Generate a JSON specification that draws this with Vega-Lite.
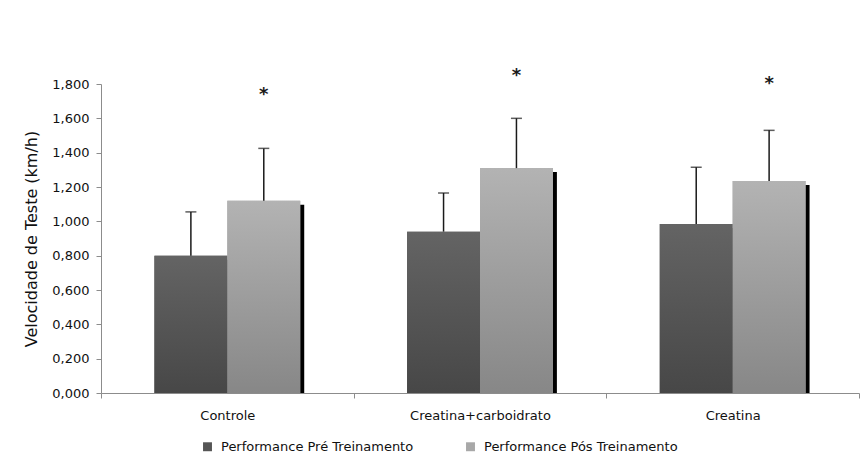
{
  "$schema": "https://vega.github.io/schema/vega-lite/v6.json",
  "width": 758,
  "height": 309,
  "autosize": {"type": "none"},
  "padding": {"left": 101, "top": 84, "right": 2, "bottom": 68},
  "background": "white",
  "config": {
    "font": "DejaVu Sans",
    "view": {"stroke": null},
    "axisY": {"tickCount": 10, "labelOverlap": false, "grid": false}
  },
  "data": {
    "values": [
      {"grupo": "Controle", "serie": "Performance Pré Treinamento", "valor": 0.80, "superior": 1.055},
      {"grupo": "Controle", "serie": "Performance Pós Treinamento", "valor": 1.12, "superior": 1.425, "asterisco": 1.765},
      {"grupo": "Creatina+carboidrato", "serie": "Performance Pré Treinamento", "valor": 0.94, "superior": 1.165},
      {"grupo": "Creatina+carboidrato", "serie": "Performance Pós Treinamento", "valor": 1.31, "superior": 1.60, "asterisco": 1.875},
      {"grupo": "Creatina", "serie": "Performance Pré Treinamento", "valor": 0.985, "superior": 1.315},
      {"grupo": "Creatina", "serie": "Performance Pós Treinamento", "valor": 1.235, "superior": 1.53, "asterisco": 1.83}
    ]
  },
  "resolve": {"scale": {"xOffset": "independent"}},
  "layer": [
    {
      "mark": {"type": "bar", "color": "#000000", "yOffset": 4},
      "encoding": {
        "x": {"field": "grupo", "type": "nominal", "sort": ["Controle", "Creatina+carboidrato", "Creatina"], "scale": {"paddingInner": 0, "paddingOuter": 0},
              "axis": {"title": null, "labelAngle": 0, "tickBand": "extent", "tickSize": 5, "domainColor": "#8c8c8c", "tickColor": "#8c8c8c", "labelFontSize": 13, "labelColor": "#111111", "labelPadding": 11}},
        "xOffset": {"field": "serie", "type": "nominal", "scale": {"domain": ["Performance Pré Treinamento", "Performance Pós Treinamento"], "paddingInner": 0, "paddingOuter": 0.733, "align": 0.5374}},
        "y": {"field": "valor", "type": "quantitative", "scale": {"domain": [0, 1.8], "nice": false},
              "axis": {"values": [0, 0.2, 0.4, 0.6, 0.8, 1.0, 1.2, 1.4, 1.6, 1.8], "tickCount": 10, "labelOverlap": false, "labelExpr": "replace(format(datum.value, '.3f'), '.', ',')", "grid": false, "tickSize": 5, "domainColor": "#8c8c8c", "tickColor": "#8c8c8c", "labelFontSize": 13, "labelColor": "#111111", "labelPadding": 7, "title": "Velocidade de Teste (km/h)", "titleFontSize": 16, "titleFontWeight": "normal", "titleColor": "#111111", "titlePadding": 12}},
        "y2": {"datum": 0}
      }
    },
    {
      "encoding": {
        "x": {"field": "grupo", "type": "nominal", "sort": ["Controle", "Creatina+carboidrato", "Creatina"]},
        "xOffset": {"field": "serie", "type": "nominal", "scale": {"domain": ["Performance Pré Treinamento", "Performance Pós Treinamento"], "paddingInner": 0, "paddingOuter": 0.733}}
      },
      "layer": [
        {
          "mark": {"type": "bar"},
          "encoding": {
            "y": {"field": "valor", "type": "quantitative",
                  "axis": {"values": [0, 0.2, 0.4, 0.6, 0.8, 1.0, 1.2, 1.4, 1.6, 1.8], "tickCount": 10, "labelOverlap": false, "labelExpr": "replace(format(datum.value, '.3f'), '.', ',')", "grid": false, "tickSize": 5, "domainColor": "#8c8c8c", "tickColor": "#8c8c8c", "labelFontSize": 13, "labelColor": "#111111", "labelPadding": 7, "title": "Velocidade de Teste (km/h)", "titleFontSize": 16, "titleFontWeight": "normal", "titleColor": "#111111", "titlePadding": 12}},
            "color": {"field": "serie", "type": "nominal", "scale": {"domain": ["Performance Pré Treinamento", "Performance Pós Treinamento"], "range": ["#555555", "#a8a8a8"]},
                      "legend": {"title": null, "orient": "none", "legendX": 100, "legendY": 356, "direction": "horizontal", "symbolType": "square", "symbolSize": 80, "symbolStrokeWidth": 0, "labelFontSize": 13, "labelColor": "#111111", "labelOffset": 7, "columnPadding": 50, "labelLimit": 300}}
          }
        },
        {
          "transform": [{"filter": "datum.serie == 'Performance Pré Treinamento'"}],
          "mark": {"type": "bar", "color": {"gradient": "linear", "x1": 0, "y1": 0, "x2": 0, "y2": 1, "stops": [{"offset": 0, "color": "#646464"}, {"offset": 1, "color": "#474747"}]}},
          "encoding": {"y": {"field": "valor", "type": "quantitative"}}
        },
        {
          "transform": [{"filter": "datum.serie == 'Performance Pós Treinamento'"}],
          "mark": {"type": "bar", "color": {"gradient": "linear", "x1": 0, "y1": 0, "x2": 0, "y2": 1, "stops": [{"offset": 0, "color": "#b3b3b3"}, {"offset": 1, "color": "#878787"}]}},
          "encoding": {"y": {"field": "valor", "type": "quantitative"}}
        },
        {
          "mark": {"type": "rule", "color": "#1a1a1a", "strokeWidth": 1.5},
          "encoding": {"y": {"field": "valor", "type": "quantitative"}, "y2": {"field": "superior"}}
        },
        {
          "mark": {"type": "tick", "color": "#1a1a1a", "thickness": 1.5, "size": 11, "orient": "horizontal"},
          "encoding": {"y": {"field": "superior", "type": "quantitative"}}
        },
        {
          "transform": [{"filter": "isValid(datum.asterisco)"}],
          "mark": {"type": "text", "text": "*", "fontSize": 18, "fontWeight": "bold", "color": "#1a1a1a", "baseline": "middle", "dy": 5},
          "encoding": {"y": {"field": "asterisco", "type": "quantitative"}}
        }
      ]
    }
  ]
}
